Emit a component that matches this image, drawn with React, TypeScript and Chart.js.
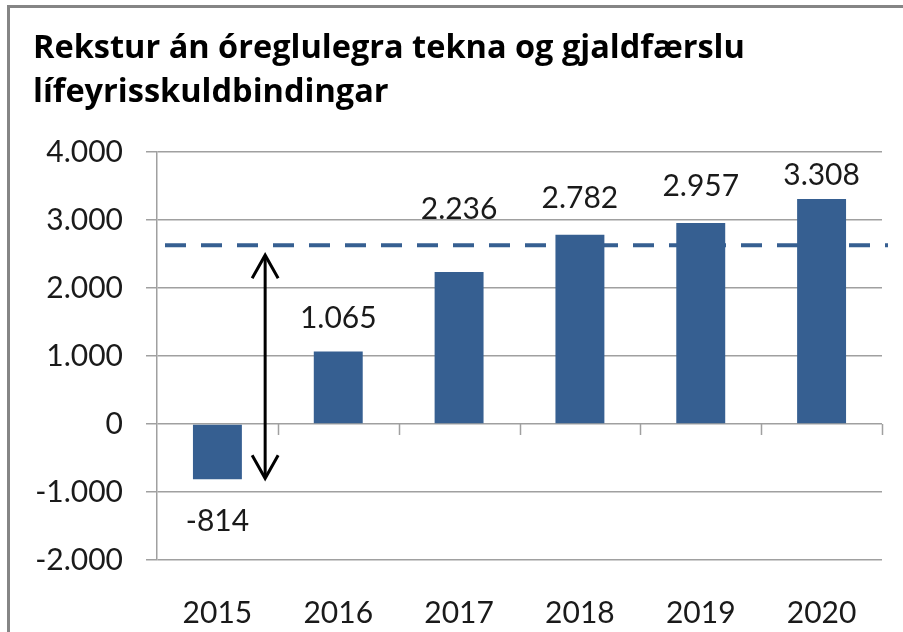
import React, { useEffect, useRef } from "react";
import { Chart, registerables } from "chart.js";

Chart.register(...registerables);

const categories = ["2015", "2016", "2017", "2018", "2019", "2020"];
const values = [-814, 1065, 2236, 2782, 2957, 3308];
const yMin = -2000;
const yMax = 4000;
const yStep = 1000;
const referenceLevel = 2630;
const titleLines = ["Rekstur án óreglulegra tekna og gjaldfærslu", "lífeyrisskuldbindingar"];
// pixel offset of each value label's centre from the end of its bar
const labelOffsets = [41, -35, -64, -38, -38, -25];

const BAR_COLOR = "#365F91";
const GRID_COLOR = "#a0a0a0";
const TEXT_COLOR = "#1a1a1a";
const FONT = "Lato";
const TITLE_FONT = "'Open Sans'";

const fmt = (v: number) => {
  const s = Math.round(Math.abs(v)).toString().replace(/\B(?=(\d{3})+(?!\d))/g, ".");
  return (v < 0 ? "-" : "") + s;
};

const decor = {
  id: "decor",
  beforeDraw(chart: any) {
    const ctx = chart.ctx;
    ctx.save();
    ctx.fillStyle = "#ffffff";
    ctx.fillRect(0, 0, chart.width, chart.height);
    ctx.strokeStyle = "#858585";
    ctx.lineWidth = 3;
    ctx.beginPath();
    ctx.moveTo(8.5, chart.height + 10);
    ctx.lineTo(8.5, 6.5);
    ctx.lineTo(chart.width + 10, 6.5);
    ctx.stroke();
    ctx.restore();
  },
  beforeDatasetsDraw(chart: any) {
    const ctx = chart.ctx;
    const xs = chart.scales.x;
    const ys = chart.scales.y;
    const area = chart.chartArea;
    ctx.save();
    // category tick marks on the zero line
    const y0 = ys.getPixelForValue(0);
    const cw = xs.getPixelForValue(1) - xs.getPixelForValue(0);
    ctx.strokeStyle = GRID_COLOR;
    ctx.lineWidth = 1.5;
    ctx.beginPath();
    for (let i = 1; i <= categories.length; i++) {
      const x = Math.round(area.left + i * cw) + 0.5;
      ctx.moveTo(x, y0);
      ctx.lineTo(x, y0 + 11);
    }
    ctx.stroke();
    // dashed reference line
    const yr = ys.getPixelForValue(referenceLevel);
    ctx.strokeStyle = BAR_COLOR;
    ctx.lineWidth = 4;
    ctx.setLineDash([21, 15]);
    ctx.beginPath();
    ctx.moveTo(area.left + 8, yr);
    ctx.lineTo(area.right + 6, yr);
    ctx.stroke();
    ctx.restore();
  },
  afterDatasetsDraw(chart: any) {
    const ctx = chart.ctx;
    const xs = chart.scales.x;
    const ys = chart.scales.y;
    ctx.save();
    // double arrow between first bar and reference line
    const c0 = xs.getPixelForValue(0);
    const c1 = xs.getPixelForValue(1);
    const ax = c0 + 0.395 * (c1 - c0);
    const yTop = ys.getPixelForValue(referenceLevel) + 10;
    const yBot = ys.getPixelForValue(values[0]) - 1;
    ctx.strokeStyle = "#000000";
    ctx.lineWidth = 3;
    ctx.lineJoin = "miter";
    ctx.beginPath();
    ctx.moveTo(ax, yTop + 1);
    ctx.lineTo(ax, yBot - 1);
    ctx.stroke();
    ctx.beginPath();
    ctx.moveTo(ax - 13, yTop + 23);
    ctx.lineTo(ax, yTop);
    ctx.lineTo(ax + 13, yTop + 23);
    ctx.stroke();
    ctx.beginPath();
    ctx.moveTo(ax - 13, yBot - 23);
    ctx.lineTo(ax, yBot);
    ctx.lineTo(ax + 13, yBot - 23);
    ctx.stroke();
    // value labels
    const meta = chart.getDatasetMeta(0);
    ctx.fillStyle = TEXT_COLOR;
    ctx.font = `30px ${FONT}`;
    ctx.textAlign = "center";
    ctx.textBaseline = "alphabetic";
    meta.data.forEach((bar: any, i: number) => {
      ctx.fillText(fmt(values[i]), bar.x, bar.y + labelOffsets[i] + 11);
    });
    ctx.restore();
  },
};

export default function App() {
  const ref = useRef<HTMLCanvasElement | null>(null);
  useEffect(() => {
    if (!ref.current) return;
    const chart = new Chart(ref.current, {
      type: "bar",
      data: {
        labels: categories,
        datasets: [
          {
            data: values,
            backgroundColor: BAR_COLOR,
            borderWidth: 0,
            categoryPercentage: 1,
            barPercentage: 0.405,
          },
        ],
      },
      options: {
        animation: false,
        responsive: false,
        maintainAspectRatio: false,
        layout: { padding: { left: 33, right: 21, top: 0, bottom: 0 } },
        plugins: {
          legend: { display: false },
          tooltip: { enabled: false },
          title: {
            display: true,
            text: titleLines,
            align: "start",
            color: "#000000",
            font: { family: TITLE_FONT, size: 32.5, weight: "bold", lineHeight: 1.354 },
            padding: { top: 27, bottom: 37 },
          },
        },
        scales: {
          x: {
            grid: { display: false },
            border: { display: false },
            ticks: {
              color: TEXT_COLOR,
              font: { family: FONT, size: 30 },
              padding: 27,
              maxRotation: 0,
            },
            afterFit: (s: any) => {
              s.height = 72;
            },
          },
          y: {
            min: yMin,
            max: yMax,
            grid: { color: GRID_COLOR, lineWidth: 1.5, tickLength: 11 },
            border: { display: true, color: GRID_COLOR, width: 1.5 },
            ticks: {
              stepSize: yStep,
              color: TEXT_COLOR,
              font: { family: FONT, size: 30 },
              padding: 23,
              callback: (v: any) => fmt(Number(v)),
            },
            afterFit: (s: any) => {
              s.width = 124;
            },
          },
        },
      },
      plugins: [decor],
    });
    return () => chart.destroy();
  }, []);
  return (
    <div style={{ position: "fixed", left: 0, top: 0, width: 903, height: 632, background: "#fff" }}>
      <canvas ref={ref} width={903} height={632} style={{ display: "block" }} />
    </div>
  );
}
